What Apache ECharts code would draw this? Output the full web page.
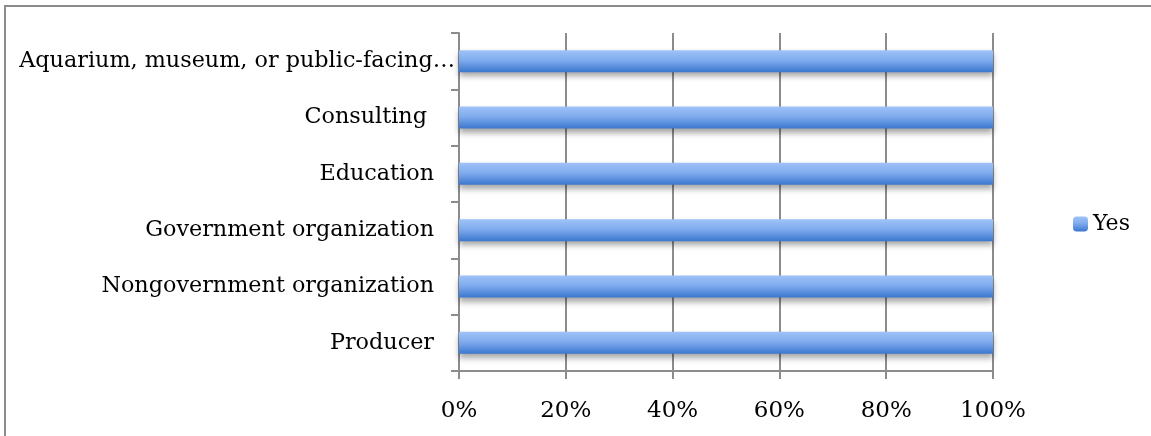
<!DOCTYPE html>
<html><head><meta charset="utf-8">
<script src="https://cdn.jsdelivr.net/npm/echarts@6/dist/echarts.min.js"></script>
<style>html,body{margin:0;padding:0;background:#fff}#c{width:1151px;height:436px}
#frame{position:absolute;left:4px;top:5px;width:1160px;height:440px;border-left:2px solid #8c8c8c;border-top:2px solid #8c8c8c;pointer-events:none}</style>
</head><body><div id="c"></div><div id="frame"></div>
<script>
const categories = ["Producer", "Nongovernment organization", "Government organization", "Education", "Consulting ", "Aquarium, museum, or public-facing…"];
const yesValues = [100, 100, 100, 100, 100, 100];
const xTicks = [0, 20, 40, 60, 80, 100];

const chart = echarts.init(document.getElementById('c'));
const font = '"DejaVu Serif", serif';
chart.setOption({
  animation: false,
  grid: {left: 459, right: 158, top: 33, bottom: 65, containLabel: false, outerBoundsMode: 'none'},
  legend: {
    data: ['Yes'], orient: 'vertical', left: 1068, top: 208,
    itemWidth: 15, itemHeight: 15, itemGap: 6,
    textStyle: {fontFamily: font, fontSize: 22, color: '#000'}
  },
  xAxis: {
    type: 'value', min: xTicks[0], max: xTicks[xTicks.length-1], interval: 20,
    axisLine: {show: true, lineStyle: {color: '#8c8c8c', width: 2}},
    axisTick: {show: true, length: 8, lineStyle: {color: '#8c8c8c', width: 2}},
    splitLine: {show: true, lineStyle: {color: '#8c8c8c', width: 2}},
    axisLabel: {margin: 29, fontFamily: font, fontSize: 23, color: '#000', formatter: v => v + '%'}
  },
  yAxis: {
    type: 'category', data: categories,
    axisLine: {show: true, lineStyle: {color: '#8c8c8c', width: 2}},
    axisTick: {show: true, length: 8, lineStyle: {color: '#8c8c8c', width: 2}},
    axisLabel: {
      margin: 4, fontFamily: font, fontSize: 22.3, color: '#000',
      formatter: (v, i) => i === categories.length - 1 ? '{t|' + v + '}' : '{n|' + v + '}',
      rich: {
        t: {fontFamily: font, fontSize: 22.3, color: '#000'},
        n: {fontFamily: font, fontSize: 22.3, color: '#000', padding: [0, 21, 0, 0]}
      }
    }
  },
  series: [{
    name: 'Yes', type: 'bar', data: yesValues, barWidth: 22,
    itemStyle: {
      color: new echarts.graphic.LinearGradient(0, 0, 0, 1, [
        {offset: 0, color: '#9fc2f8'}, {offset: 0.45, color: '#80acee'}, {offset: 1, color: '#3b77cf'}
      ]),
      shadowColor: 'rgba(0,0,0,0.35)', shadowBlur: 6, shadowOffsetY: 4
    }
  }]
});
</script></body></html>
